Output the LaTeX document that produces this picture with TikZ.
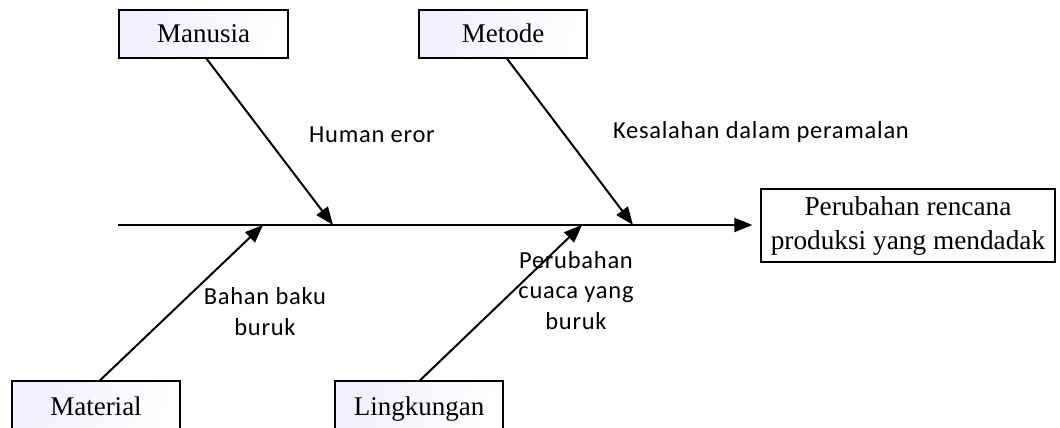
\documentclass[tikz,border=0pt]{standalone}
\usepackage{fontspec}
\setmainfont{Liberation Serif}
\newfontfamily\labelfont[LetterSpace=3.0]{Carlito}
\usetikzlibrary{arrows.meta}

\tikzset{
  causebox/.style={draw=black, line width=1.3pt, minimum height=48pt,
    left color=blue!6!white, right color=white, shading angle=70,
    font=\fontsize{27}{30}\selectfont, inner sep=0pt,
    text height=18pt, text depth=0pt},
  effectbox/.style={draw=black, line width=1.3pt, minimum width=294pt, minimum height=73pt,
    fill=white, align=center, inner sep=0pt,
    font=\fontsize{27.3}{34}\selectfont},
  bone/.style={line width=2pt, -{Triangle[length=18pt,width=14pt]}},
  note/.style={font=\labelfont\fontsize{24.5}{30.5}\selectfont, align=center, inner sep=0pt}
}

\begin{document}
\begin{tikzpicture}[x=1pt,y=-1pt]
  \useasboundingbox (0,0) rectangle (1060,428);
  \clip (0,0) rectangle (1060,428);

  % cause boxes
  \node[causebox, minimum width=169pt] (manusia) at (203.5,34) {Manusia};
  \node[causebox, minimum width=168pt] (metode) at (503,34) {Metode};
  \node[causebox, minimum width=168pt, minimum height=50pt] (material) at (96,406) {Material};
  \node[causebox, minimum width=168pt, minimum height=50pt] (lingkungan) at (419,406) {Lingkungan};

  % effect box
  \node[effectbox] (effect) at (908,225.5) {Perubahan rencana\\produksi yang mendadak};

  % spine
  \coordinate (tail) at (118,225);
  \draw[bone, shorten >=8pt] (tail) -- (tail -| effect.west);

  % points where the bones meet the spine
  \coordinate (jm) at (333,225);
  \coordinate (jt) at (633,225);
  \coordinate (jmat) at (263,225);
  \coordinate (jl) at (582,225);

  \draw[bone] ([xshift=3pt]manusia.south) -- (jm);
  \draw[bone] ([xshift=4pt]metode.south) -- (jt);
  \draw[bone] ([xshift=4pt]material.north) -- (jmat);
  \draw[bone] ([xshift=1pt]lingkungan.north) -- (jl);

  % labels (base anchor sits on the last line)
  \node[note, anchor=base] (l1) at (372,142) {Human eror};
  \node[note, anchor=base] (l2) at (761,138) {Kesalahan dalam peramalan};
  \node[note, anchor=base] (l3) at (265,335) {Bahan baku\\buruk};
  \node[note, anchor=base] (l4) at (576,329) {Perubahan\\cuaca yang\\buruk};
\end{tikzpicture}
\end{document}
